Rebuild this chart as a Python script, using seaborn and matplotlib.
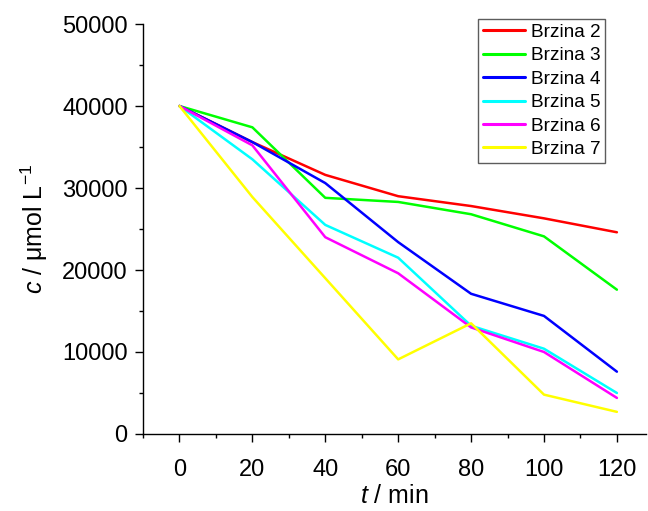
import pandas as pd
import matplotlib
matplotlib.use("Agg")
import matplotlib.pyplot as plt
import seaborn as sns
from matplotlib.ticker import MultipleLocator

# Dados: concentração ao longo do tempo
t_min = [0, 20, 40, 60, 80, 100, 120]
brzina_2 = [40000, 35600, 31600, 29000, 27800, 26300, 24600]
brzina_3 = [40000, 37400, 28800, 28300, 26800, 24100, 17600]
brzina_4 = [40000, 35600, 30600, 23400, 17100, 14400, 7600]
brzina_5 = [40000, 33500, 25500, 21500, 13200, 10400, 5000]
brzina_6 = [40000, 35200, 24000, 19600, 13000, 10000, 4400]
brzina_7 = [40000, 28900, 19000, 9100, 13500, 4800, 2700]

series_names = ["Brzina 2", "Brzina 3", "Brzina 4", "Brzina 5", "Brzina 6", "Brzina 7"]
series_values = [brzina_2, brzina_3, brzina_4, brzina_5, brzina_6, brzina_7]
colors = ["#ff0000", "#00ff00", "#0000ff", "#00ffff", "#ff00ff", "#ffff00"]

rows = []
for name, vals in zip(series_names, series_values):
    for t, c in zip(t_min, vals):
        rows.append({"t": t, "c": c, "serie": name})
df = pd.DataFrame(rows)

sns.set_style("ticks")
plt.rcParams["font.family"] = ["Liberation Sans", "DejaVu Sans"]
plt.rcParams["mathtext.fontset"] = "custom"
plt.rcParams["mathtext.rm"] = "Liberation Sans"
plt.rcParams["mathtext.it"] = "Liberation Sans:italic"
for k in ["text.color", "axes.labelcolor", "xtick.color", "ytick.color", "axes.edgecolor"]:
    plt.rcParams[k] = "black"

fig = plt.figure(figsize=(6.48, 5.11), dpi=100)
ax = fig.add_axes([0.2207, 0.1507, 0.7763, 0.8023])

sns.lineplot(data=df, x="t", y="c", hue="serie", palette=dict(zip(series_names, colors)),
             linewidth=1.8, ax=ax)

ax.set_xlim(-10, 128)
ax.set_ylim(0, 50000)
ax.xaxis.set_major_locator(MultipleLocator(20))
ax.xaxis.set_minor_locator(MultipleLocator(10))
ax.yaxis.set_major_locator(MultipleLocator(10000))
ax.yaxis.set_minor_locator(MultipleLocator(5000))
ax.tick_params(axis="both", which="major", labelsize=17, length=5.5, width=1, direction="out")
ax.tick_params(axis="y", which="major", pad=5.5)
ax.tick_params(axis="x", which="major", pad=12.5)
ax.tick_params(axis="both", which="minor", length=3, width=1, direction="out")
for s in ["left", "bottom"]:
    ax.spines[s].set_linewidth(1)
ax.spines["top"].set_visible(False)
ax.spines["right"].set_visible(False)

ax.set_xlabel(r"$t$ / min", fontsize=18, labelpad=2)
ax.set_ylabel(r"$c$ / μmol L$^{-1}$", fontsize=18, labelpad=9)

leg = ax.legend(loc="upper right", bbox_to_anchor=(605 / 648, (511 - 19) / 511),
                bbox_transform=fig.transFigure, fontsize=13.7, frameon=True, fancybox=False,
                borderaxespad=0, handlelength=2.2, labelspacing=0.32, borderpad=0.25,
                handletextpad=0.32)
leg.get_frame().set_edgecolor("#333333")
leg.get_frame().set_linewidth(1)
for line in leg.get_lines():
    line.set_linewidth(2.2)

fig.savefig("out.png", dpi=100)
